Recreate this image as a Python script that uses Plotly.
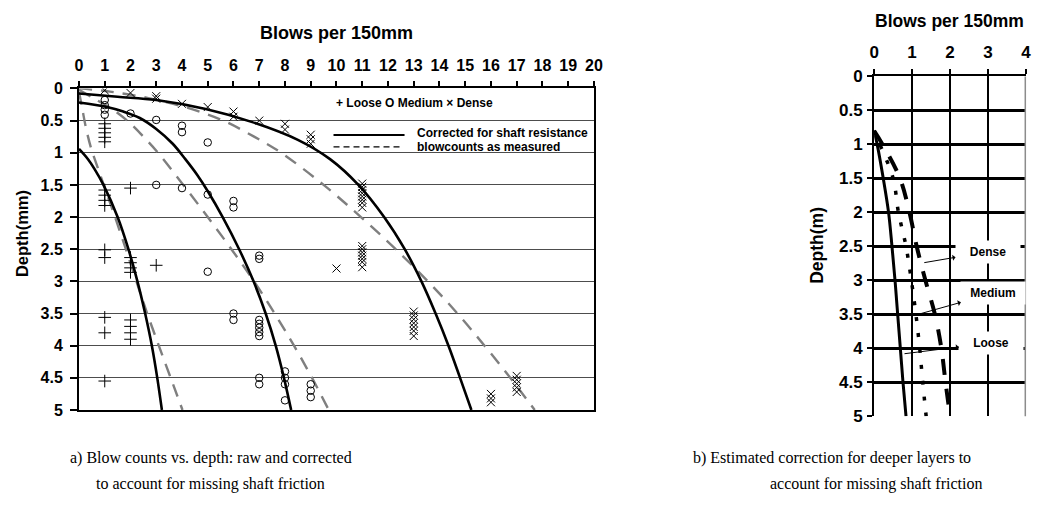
import plotly.graph_objects as go

W, H = 1039, 510

# ---------------- Left panel data (blows per 150mm vs depth) ----------------
loose_corr_d = [0.94, 1.1, 1.25, 1.5, 2.0, 2.5, 3.0, 3.5, 4.0, 4.5, 5.0]
loose_corr_n = [0.0, 0.35, 0.6, 0.95, 1.5, 1.92, 2.27, 2.57, 2.83, 3.04, 3.22]
loose_meas_d = [0.05, 0.3, 0.63, 0.93, 1.2, 1.5, 2.0, 2.5, 3.0, 3.5, 4.0, 4.5, 5.0]
loose_meas_n = [0.0, 0.12, 0.28, 0.47, 0.7, 0.96, 1.4, 1.82, 2.23, 2.65, 3.1, 3.56, 4.02]

med_corr_d = [0.22, 0.29, 0.36, 0.46, 0.63, 0.86, 1.1, 1.35, 1.61, 2.0, 2.5, 3.0, 3.5, 4.0, 4.5, 5.0]
med_corr_n = [0.0, 1.08, 1.72, 2.36, 3.0, 3.64, 4.13, 4.6, 5.02, 5.58, 6.22, 6.78, 7.25, 7.64, 7.96, 8.24]
med_meas_d = [0.02, 0.16, 0.31, 0.51, 0.75, 1.0, 1.5, 2.0, 2.5, 3.0, 3.5, 4.0, 4.5, 5.0]
med_meas_n = [0.0, 0.6, 1.25, 1.9, 2.5, 3.07, 4.05, 5.0, 5.92, 6.8, 7.6, 8.35, 9.05, 9.7]

dense_corr_d = [0.08, 0.13, 0.18, 0.32, 0.52, 0.8, 1.1, 1.5, 2.0, 2.5, 3.0, 3.5, 4.0, 4.5, 5.0]
dense_corr_n = [0.0, 1.5, 3.0, 4.92, 6.7, 8.5, 9.75, 10.85, 11.85, 12.65, 13.3, 13.85, 14.35, 14.8, 15.24]
dense_meas_d = [0.0, 0.05, 0.15, 0.3, 0.5, 0.75, 1.0, 1.5, 2.0, 2.5, 3.0, 3.5, 4.0, 4.5, 5.0]
dense_meas_n = [0.0, 1.2, 2.7, 4.2, 5.6, 6.8, 7.85, 9.5, 10.95, 12.3, 13.55, 14.7, 15.75, 16.75, 17.7]

loose_pts_n = [1, 1, 1, 1, 1, 1, 1, 1, 1, 1, 1, 1, 1, 1,
               2, 2, 2, 2, 2, 2, 2, 2, 2, 3]
loose_pts_d = [0.55, 0.62, 0.69, 0.76, 0.83, 1.58, 1.66, 1.74, 1.82, 2.51, 2.63, 3.56, 3.8, 4.55,
               1.55, 2.63, 2.71, 2.79, 2.86, 3.6, 3.7, 3.8, 3.9, 2.75]

med_pts_n = [1, 1, 1, 1, 2, 3, 3, 4, 4, 4, 5, 5, 5, 6, 6, 6, 6,
             7, 7, 7, 7, 7, 7, 7, 7, 7, 8, 8, 8, 8, 9, 9, 9]
med_pts_d = [0.18, 0.26, 0.33, 0.41, 0.39, 0.49, 1.5, 0.58, 0.68, 1.55, 0.84, 1.65, 2.85, 1.75, 1.85, 3.5, 3.6,
             2.6, 2.65, 3.6, 3.66, 3.72, 3.79, 3.85, 4.5, 4.6, 4.4, 4.5, 4.6, 4.85, 4.6, 4.7, 4.8]

dense_pts_n = [1, 2, 3, 3, 4, 5, 6, 6, 7, 8, 8, 9, 9, 9, 10,
               11, 11, 11, 11, 11, 11, 11, 11, 11, 11, 11, 11, 11, 11, 11,
               13, 13, 13, 13, 13, 13, 13, 16, 16, 16, 17, 17, 17, 17, 17]
dense_pts_d = [0.03, 0.07, 0.12, 0.16, 0.24, 0.29, 0.36, 0.44, 0.5, 0.55, 0.64, 0.72, 0.79, 0.86, 2.8,
               1.48, 1.53, 1.58, 1.63, 1.68, 1.73, 1.78, 1.85, 2.45, 2.5, 2.55, 2.6, 2.65, 2.7, 2.78,
               3.47, 3.53, 3.59, 3.65, 3.71, 3.77, 3.85, 4.75, 4.82, 4.88, 4.47, 4.53, 4.59, 4.65, 4.72]

# ---------------- Right panel data (estimated correction) ----------------
corr_d = [0.8, 1.0, 1.5, 2.0, 2.5, 3.0, 3.5, 4.0, 4.5, 5.0]
corr_loose = [0.0, 0.08, 0.24, 0.38, 0.47, 0.55, 0.62, 0.69, 0.76, 0.84]
corr_medium = [0.0, 0.15, 0.5, 0.64, 0.84, 0.98, 1.1, 1.2, 1.28, 1.37]
corr_dense = [0.0, 0.22, 0.68, 0.93, 1.12, 1.35, 1.6, 1.77, 1.88, 2.0]

depth_ticks = [0, 0.5, 1, 1.5, 2, 2.5, 3, 3.5, 4, 4.5, 5]
depth_labels = ["0", "0.5", "1", "1.5", "2", "2.5", "3", "3.5", "4", "4.5", "5"]
blow_ticks_left = list(range(0, 21))
blow_ticks_right = [0, 1, 2, 3, 4]

SANS = "Liberation Sans, Arial, sans-serif"
SERIF = "Liberation Serif, Times New Roman, serif"


def px(x):
    return x / W


def py(y):
    return 1 - y / H


fig = go.Figure()

# left panel curves
for d, n in [(loose_meas_d, loose_meas_n), (med_meas_d, med_meas_n), (dense_meas_d, dense_meas_n)]:
    fig.add_trace(go.Scatter(x=n, y=d, mode="lines", line_shape="spline",
                             line=dict(color="#7f7f7f", width=2.4, dash="13px,9px"),
                             xaxis="x", yaxis="y", showlegend=False, hoverinfo="skip"))
for d, n in [(loose_corr_d, loose_corr_n), (med_corr_d, med_corr_n), (dense_corr_d, dense_corr_n)]:
    fig.add_trace(go.Scatter(x=n, y=d, mode="lines", line_shape="spline",
                             line=dict(color="black", width=2.6),
                             xaxis="x", yaxis="y", showlegend=False, hoverinfo="skip"))

fig.add_trace(go.Scatter(x=loose_pts_n, y=loose_pts_d, mode="markers",
                         marker=dict(symbol="cross-thin", size=9, color="black",
                                     line=dict(width=1, color="black")),
                         xaxis="x", yaxis="y", showlegend=False))
fig.add_trace(go.Scatter(x=med_pts_n, y=med_pts_d, mode="markers",
                         marker=dict(symbol="circle-open", size=7.5, color="black",
                                     line=dict(width=1, color="black")),
                         xaxis="x", yaxis="y", showlegend=False))
fig.add_trace(go.Scatter(x=dense_pts_n, y=dense_pts_d, mode="markers",
                         marker=dict(symbol="x-thin", size=8, color="black",
                                     line=dict(width=1, color="black")),
                         xaxis="x", yaxis="y", showlegend=False))

# right panel curves
fig.add_trace(go.Scatter(x=corr_loose, y=corr_d, mode="lines", line_shape="spline",
                         line=dict(color="black", width=3),
                         xaxis="x2", yaxis="y2", showlegend=False, hoverinfo="skip"))
fig.add_trace(go.Scatter(x=corr_medium, y=corr_d, mode="lines", line_shape="spline",
                         line=dict(color="black", width=3.5, dash="4px,12px"),
                         xaxis="x2", yaxis="y2", showlegend=False, hoverinfo="skip"))
fig.add_trace(go.Scatter(x=corr_dense, y=corr_d, mode="lines", line_shape="spline",
                         line=dict(color="black", width=4, dash="16px,14px"),
                         xaxis="x2", yaxis="y2", showlegend=False, hoverinfo="skip"))

tickfont_l = dict(family=SANS, size=16, color="black", weight="bold")
tickfont_r = dict(family=SANS, size=17, color="black", weight="bold")

fig.update_layout(
    width=W, height=H, autosize=False,
    margin=dict(l=0, r=0, t=0, b=0),
    paper_bgcolor="white", plot_bgcolor="white",
    showlegend=False,
    xaxis=dict(domain=[px(75), px(597)], range=[0, 20], side="top", anchor="y",
               tickmode="array", tickvals=blow_ticks_left,
               ticktext=[str(t) for t in blow_ticks_left],
               ticks="outside", ticklen=5, tickwidth=1.5, tickcolor="black",
               showline=True, linewidth=2, linecolor="black", mirror=True,
               showgrid=False, zeroline=False, tickfont=tickfont_l, ticklabelstandoff=4),
    yaxis=dict(domain=[py(416.5), py(82.5)], range=[5, 0], anchor="x",
               tickmode="array", tickvals=depth_ticks, ticktext=depth_labels,
               ticks="outside", ticklen=7, tickwidth=1.5, tickcolor="black",
               showline=True, linewidth=2, linecolor="black", mirror=True,
               showgrid=True, gridcolor="#4d4d4d", gridwidth=1.3, zeroline=False,
               tickfont=tickfont_l, ticklabelstandoff=4),
    xaxis2=dict(domain=[px(881), px(1035)], range=[0, 4], side="top", anchor="y2",
                tickmode="array", tickvals=blow_ticks_right,
                ticktext=[str(t) for t in blow_ticks_right],
                ticks="outside", ticklen=5, tickwidth=2, tickcolor="black",
                showline=True, linewidth=2, linecolor="black", mirror=False,
                showgrid=True, gridcolor="black", gridwidth=2, zeroline=False,
                tickfont=tickfont_r, ticklabelstandoff=5),
    yaxis2=dict(domain=[py(423), py(70)], range=[5, 0], anchor="x2",
                tickmode="array", tickvals=depth_ticks, ticktext=depth_labels,
                ticks="outside", ticklen=5, tickwidth=2, tickcolor="black",
                showline=True, linewidth=2, linecolor="black",
                showgrid=True, gridcolor="black", gridwidth=2.5, zeroline=False,
                tickfont=tickfont_r, ticklabelstandoff=1),
)

shapes = [
    # legend line samples
    dict(type="line", xref="paper", yref="paper", x0=px(333), x1=px(405), y0=py(131), y1=py(131),
         line=dict(color="black", width=2)),
    dict(type="line", xref="paper", yref="paper", x0=px(333), x1=px(402), y0=py(143.3), y1=py(143.3),
         line=dict(color="black", width=1.3, dash="6px,4px")),
    # right panel right edge
    dict(type="line", xref="x2", yref="paper", x0=4, x1=4, y0=py(423), y1=py(70),
         line=dict(color="#8c8c8c", width=3)),
]
fig.update_layout(shapes=shapes)

ann = []


def text_ann(x, y, text, size, family=SANS, xanchor="center", bold=True, angle=0):
    ann.append(dict(xref="paper", yref="paper", x=px(x), y=py(y), text=text,
                    showarrow=False, xanchor=xanchor, yanchor="middle", textangle=angle,
                    font=dict(family=family, size=size, color="black",
                              weight="bold" if bold else "normal")))


text_ann(336, 25, "Blows per 150mm", 18)
text_ann(18, 233, "Depth(mm)", 16.5, angle=-90)
text_ann(334, 97.7, "+ Loose O Medium × Dense", 12, xanchor="left")
text_ann(416, 128.3, "Corrected for shaft resistance", 12, xanchor="left")
text_ann(416, 143.3, "blowcounts as measured", 12, xanchor="left")
text_ann(957, 12.5, "Blows per 150mm", 17.5)
text_ann(823, 245, "Depth(m)", 17.5, angle=-90)
text_ann(209, 466, "a) Blow counts vs. depth: raw and corrected", 16, family=SERIF, bold=False)
text_ann(208, 493, "to account for missing shaft friction", 16, family=SERIF, bold=False)
text_ann(695, 466, "b) Estimated correction for deeper layers to", 16, family=SERIF,
         xanchor="left", bold=False)
text_ann(773, 493, "account for missing shaft friction", 16, family=SERIF,
         xanchor="left", bold=False)

# arrow labels in right panel
for label, tail_n, tail_d, lab_n, lab_d in [("Dense", 1.32, 2.74, 3.0, 2.58),
                                             ("Medium", 1.23, 3.49, 3.14, 3.19),
                                             ("Loose", 0.80, 4.08, 3.09, 3.92)]:
    ann.append(dict(xref="x2", yref="y2", x=tail_n, y=tail_d, axref="x2", ayref="y2",
                    ax=lab_n, ay=lab_d, text=label, showarrow=True, arrowside="start",
                    arrowhead=2, arrowsize=1, arrowwidth=1, arrowcolor="black",
                    bgcolor="white", width=62, height=20,
                    font=dict(family=SANS, size=12, color="black", weight="bold")))

fig.update_layout(annotations=ann)

fig.write_html("out.html", config={"displayModeBar": False},
               post_script="document.body.style.margin='0';document.body.style.overflow='hidden';")
